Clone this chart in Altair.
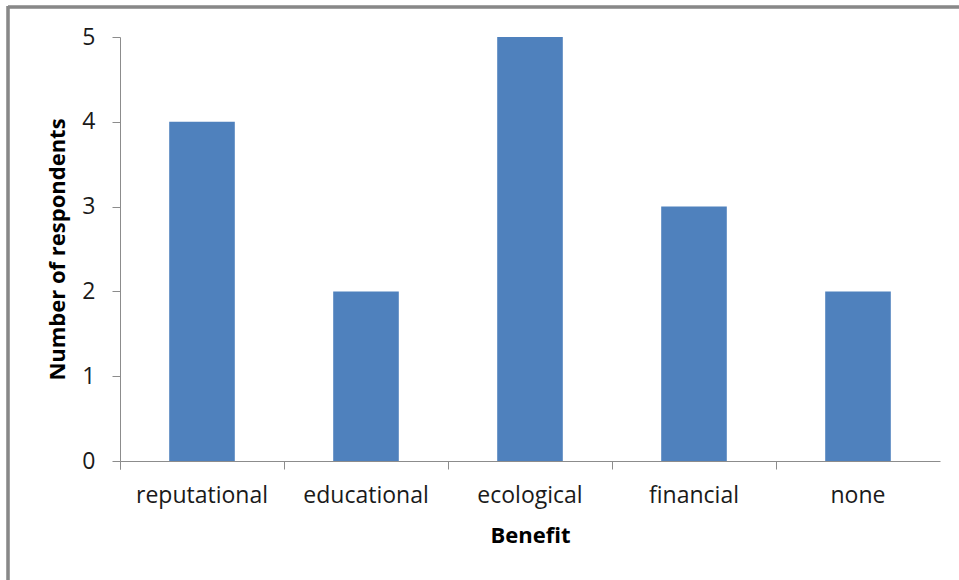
import altair as alt
import pandas as pd

benefits = ["reputational", "educational", "ecological", "financial", "none"]
respondents = [4, 2, 5, 3, 2]

df = pd.DataFrame({"Benefit": benefits, "Respondents": respondents})

FONT = "Open Sans"
AXIS_COLOR = "#8c8c8c"

bars = alt.Chart(df).mark_bar(color="#4F81BD", width=alt.RelativeBandSize(0.4)).encode(
    x=alt.X(
        "Benefit:N",
        sort=benefits,
        title="Benefit",
        scale=alt.Scale(paddingInner=0, paddingOuter=0),
        axis=alt.Axis(
            labelAngle=0,
            bandPosition=0,
            tickExtra=True,
            labelFontSize=23,
            labelColor="#1a1a1a",
            labelPadding=15,
            tickSize=8,
            tickColor=AXIS_COLOR,
            domainColor=AXIS_COLOR,
            titleFontSize=22,
            titleFontWeight="bold",
            titleColor="#000000",
            titlePadding=18,
        ),
    ),
    y=alt.Y(
        "Respondents:Q",
        title="Number of respondents",
        scale=alt.Scale(domain=[0, 5]),
        axis=alt.Axis(
            values=[0, 1, 2, 3, 4, 5],
            grid=False,
            labelFontSize=23,
            labelColor="#1a1a1a",
            labelPadding=17,
            tickSize=8,
            tickColor=AXIS_COLOR,
            domainColor=AXIS_COLOR,
            titleFontSize=22,
            titleFontWeight="bold",
            titleColor="#000000",
            titlePadding=12,
        ),
    ),
)

top_border = alt.Chart(df).mark_rule(color="#888888", strokeWidth=2.5).encode(
    x=alt.value(-112), x2=alt.value(860), y=alt.value(-30)
)
left_border = alt.Chart(df).mark_rule(color="#888888", strokeWidth=2.5).encode(
    x=alt.value(-112), y=alt.value(-31), y2=alt.value(560)
)

chart = (
    alt.layer(bars, top_border, left_border)
    .properties(
        width=820,
        height=424,
        autosize=alt.AutoSizeParams(type="none"),
        padding={"left": 120, "top": 37, "right": 19, "bottom": 119},
    )
    .configure(font=FONT)
    .configure_view(stroke=None)
)

chart.save("out.html", embed_options={"renderer": "svg", "actions": False})
